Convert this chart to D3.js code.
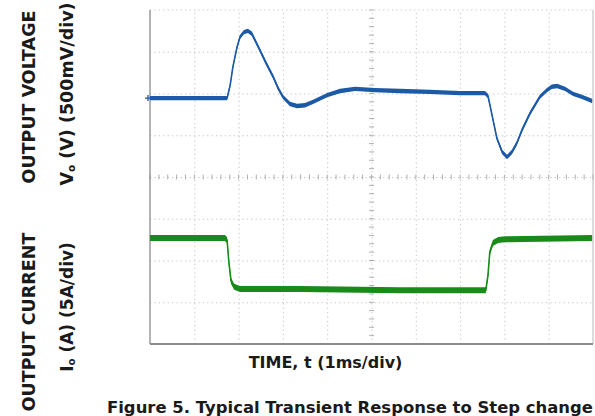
<!DOCTYPE html>
<html lang="en">
<head>
<meta charset="UTF-8">
<title>Typical Transient Response</title>
<style>
    body { margin: 0; background: #fff; overflow: hidden; }
    svg { display: block; }
    .lbl { font-family: "DejaVu Sans", sans-serif; font-weight: bold; fill: #1a1a1a; }
    .grid line { stroke: #c2c2c2; stroke-width: 1; stroke-dasharray: 1.2,3.2; }
    .grid path { display: none; }
</style>
</head>
<body>
<svg id="chart" width="595" height="416"></svg>
<script src="https://d3js.org/d3.v7.min.js"></script>
<script>
// time in ms (1ms/div), levels in scope divisions (0 = centre line)
const voltT = [0, 1.74, 1.81, 1.87, 1.96, 2.03, 2.12, 2.21, 2.30, 2.48, 2.62, 2.78, 2.89, 3.00, 3.16, 3.32, 3.50, 3.68, 4.00, 4.29, 4.63, 5.08, 5.64, 6.32, 7.00, 7.56, 7.63, 7.72, 7.83, 7.95, 8.06, 8.17, 8.28, 8.40, 8.58, 8.80, 8.96, 9.07, 9.19, 9.37, 9.55, 9.75, 9.98];
const voltDiv = [1.89, 1.89, 2.20, 2.63, 3.09, 3.35, 3.47, 3.50, 3.43, 3.04, 2.73, 2.40, 2.13, 1.92, 1.75, 1.70, 1.72, 1.80, 1.96, 2.06, 2.11, 2.08, 2.06, 2.04, 2.01, 2.01, 1.94, 1.49, 0.93, 0.60, 0.48, 0.60, 0.81, 1.13, 1.53, 1.92, 2.08, 2.16, 2.18, 2.11, 1.99, 1.92, 1.82];

const currT = [0, 1.69, 1.74, 1.78, 1.83, 1.90, 2.03, 3.39, 5.64, 7.58, 7.63, 7.67, 7.74, 7.86, 8.01, 9.98];
const currDiv = [-1.46, -1.46, -1.51, -2.04, -2.49, -2.63, -2.68, -2.68, -2.71, -2.71, -2.35, -1.80, -1.58, -1.51, -1.49, -1.46];

const timeDivs = d3.range(0, 11);
const levelDivs = d3.range(-4, 5);

const plot = { left: 150, right: 593, top: 10, bottom: 344 };

const svg = d3.select("#chart");

const x = d3.scaleLinear().domain([0, 10]).range([plot.left, plot.right]);
const y = d3.scaleLinear().domain([-4, 4]).range([plot.bottom, plot.top]);

// dotted graticule
svg.append("g").attr("class", "grid")
    .attr("transform", `translate(0,${plot.bottom})`)
    .call(d3.axisBottom(x).tickValues(timeDivs.slice(1, -1)).tickSize(-(plot.bottom - plot.top)).tickFormat(""));
svg.append("g").attr("class", "grid")
    .attr("transform", `translate(${plot.left},0)`)
    .call(d3.axisLeft(y).tickValues(levelDivs.slice(1, -1)).tickSize(-(plot.right - plot.left)).tickFormat(""));

// centre lines get small sub-division ticks
const sub = svg.append("g").attr("stroke", "#b0b0b0").attr("stroke-width", 1);
d3.range(0, 10.01, 0.2).forEach(t => {
    sub.append("line").attr("x1", x(t)).attr("x2", x(t)).attr("y1", y(0) - 2.5).attr("y2", y(0) + 2.5);
});
d3.range(-4, 4.01, 0.2).forEach(d => {
    sub.append("line").attr("x1", x(5) - 2.5).attr("x2", x(5) + 2.5).attr("y1", y(d)).attr("y2", y(d));
});

// frame
svg.append("line").attr("x1", plot.left).attr("x2", plot.right).attr("y1", plot.top).attr("y2", plot.top)
    .attr("stroke", "#c4c4c4").attr("stroke-dasharray", "1.2,3.2");
svg.append("line").attr("x1", plot.right).attr("x2", plot.right).attr("y1", plot.top).attr("y2", plot.bottom)
    .attr("stroke", "#b8b8b8");
svg.append("line").attr("x1", plot.left).attr("x2", plot.left).attr("y1", plot.top).attr("y2", plot.bottom)
    .attr("stroke", "#8c8c8c").attr("stroke-width", 1.3);
svg.append("line").attr("x1", plot.left).attr("x2", plot.right).attr("y1", plot.bottom).attr("y2", plot.bottom)
    .attr("stroke", "#8c8c8c").attr("stroke-width", 2);

// traces: noisy band + thin core line
function trace(ts, ds, color, half) {
    const pts = ts.map((t, i) => [t, ds[i]]);
    const band = d3.area().x(p => x(p[0])).y0(p => y(p[1]) - half).y1(p => y(p[1]) + half);
    const line = d3.line().x(p => x(p[0])).y(p => y(p[1]));
    svg.append("path").attr("d", band(pts)).attr("fill", color);
    svg.append("path").attr("d", line(pts)).attr("fill", "none").attr("stroke", color).attr("stroke-width", 1.6);
}
trace(voltT, voltDiv, "#1d5aa6", 2.2);
trace(currT, currDiv, "#1a8a1a", 3);

// channel marker
const my = y(voltDiv[0]);
svg.append("path").attr("d", `M${x(0) - 5},${my}h6M${x(0) - 2},${my - 3}v6`)
    .attr("stroke", "#1d5aa6").attr("stroke-width", 1.3);

// labels
function vlabel(cx, cy, size, parts) {
    const t = svg.append("text").attr("class", "lbl")
        .attr("transform", `translate(${cx},${cy}) rotate(-90)`)
        .attr("text-anchor", "middle").style("font-size", size + "px");
    parts.forEach(p => {
        const s = t.append("tspan").text(p.text);
        if (p.sub) s.style("font-size", (size * 0.6) + "px").attr("dy", 2);
        if (p.after) s.attr("dy", -2);
    });
    return t;
}
vlabel(35, 97, 17.5, [{ text: "OUTPUT VOLTAGE" }]);
vlabel(73, 94, 17.5, [{ text: "V" }, { text: "o", sub: true }, { text: " (V) (500mV/div)", after: true }]);
vlabel(35, 322, 17.5, [{ text: "OUTPUT CURRENT" }]);
vlabel(73, 307, 17, [{ text: "I" }, { text: "o", sub: true }, { text: " (A) (5A/div)", after: true }]);

svg.append("text").attr("class", "lbl").attr("x", 325.5).attr("y", 368)
    .attr("text-anchor", "middle").style("font-size", "16px").text("TIME, t (1ms/div)");

svg.append("text").attr("class", "lbl").attr("x", 107).attr("y", 413)
    .attr("textLength", 486).attr("lengthAdjust", "spacingAndGlyphs")
    .style("font-size", "16px").text("Figure 5. Typical Transient Response to Step change");
</script>
</body>
</html>
